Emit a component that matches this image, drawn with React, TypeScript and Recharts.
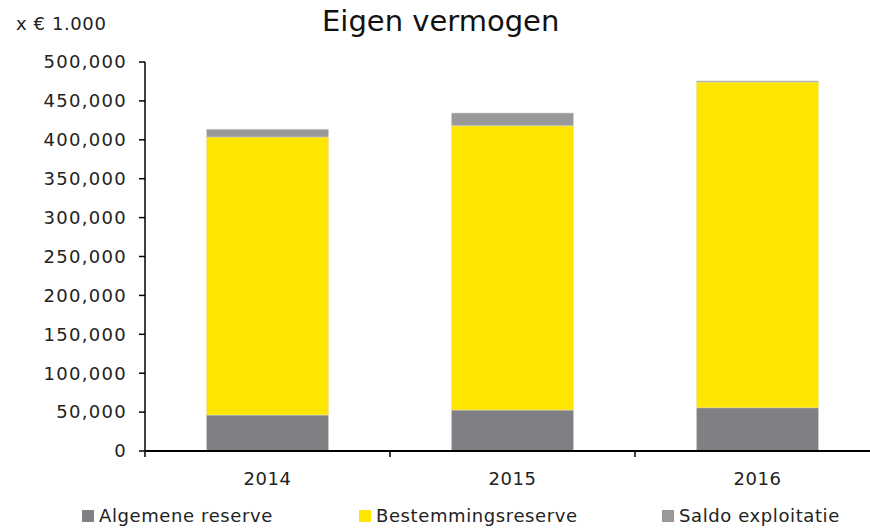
import React from 'react';
import { BarChart, Bar, XAxis, YAxis } from 'recharts';

if (typeof document !== 'undefined') {
  document.body.style.margin = '0';
}

const years = ['2014', '2015', '2016'];
const algemeneReserve = [46300, 52700, 55700];
const bestemmingsreserve = [357300, 365400, 418600];
const saldoExploitatie = [9900, 16300, 1300];
const yTicks = [0, 50000, 100000, 150000, 200000, 250000, 300000, 350000, 400000, 450000, 500000];

const data = years.map((y, i) => ({
  year: y,
  alg: algemeneReserve[i],
  best: bestemmingsreserve[i],
  saldo: saldoExploitatie[i],
}));

const FONT = '"DejaVu Sans", sans-serif';
const BAND = 245;

const legendItems = [
  { label: 'Algemene reserve', color: '#808084', x: 82 },
  { label: 'Bestemmingsreserve', color: '#FFE600', x: 359 },
  { label: 'Saldo exploitatie', color: '#999999', x: 662 },
];

const XTick = (props: any) => {
  const { x, payload } = props;
  return (
    <g>
      <line x1={x - BAND / 2} x2={x - BAND / 2} y1={451} y2={457} stroke="#000" strokeWidth={1.5} />
      <text x={x} y={485} textAnchor="middle" fill="#222" fontSize={18} fontFamily={FONT} letterSpacing={0.6}>
        {payload.value}
      </text>
    </g>
  );
};

export default function App() {
  return (
    <div style={{ position: 'relative', width: 870, height: 528, overflow: 'hidden', background: '#fff' }}>
      <div style={{ position: 'absolute', left: 16, top: 13, fontFamily: FONT, fontSize: 18, letterSpacing: 0.6, color: '#222', whiteSpace: 'nowrap' }}>x € 1.000</div>
      <div style={{ position: 'absolute', left: 322, top: 4, fontFamily: FONT, fontSize: 29, color: '#111', whiteSpace: 'nowrap' }}>Eigen vermogen</div>
      <BarChart
        width={882}
        height={528}
        data={data}
        margin={{ top: 62, right: 2, left: 0, bottom: 47 }}
        barCategoryGap={61.5}
        style={{ position: 'absolute', left: 0, top: 0 }}
      >
        <YAxis
          width={145}
          domain={[0, 500000]}
          ticks={yTicks}
          interval={0}
          tickFormatter={(v: number) => v.toLocaleString('en-US')}
          tick={{ fill: '#222', fontSize: 18, fontFamily: FONT, letterSpacing: 1.3 }}
          tickSize={6}
          tickMargin={12}
          axisLine={{ stroke: '#000', strokeWidth: 1.5 }}
          tickLine={{ stroke: '#000', strokeWidth: 1.5 }}
        />
        <XAxis
          dataKey="year"
          height={30}
          tick={<XTick />}
          tickLine={false}
          axisLine={{ stroke: '#000', strokeWidth: 2 }}
          interval={0}
        />
        <Bar dataKey="alg" stackId="a" fill="#808084" stroke="#d0d0d0" strokeWidth={0.6} isAnimationActive={false} />
        <Bar dataKey="best" stackId="a" fill="#FFE600" stroke="#e8e0a0" strokeWidth={0.6} isAnimationActive={false} />
        <Bar dataKey="saldo" stackId="a" fill="#999999" stroke="#d0d0d0" strokeWidth={0.6} isAnimationActive={false} />
      </BarChart>
      {legendItems.map((it) => (
        <div key={it.label} style={{ position: 'absolute', left: it.x, top: 505, display: 'flex', alignItems: 'center', fontFamily: FONT, fontSize: 18, letterSpacing: 0.6, color: '#222', whiteSpace: 'nowrap' }}>
          <span style={{ display: 'inline-block', width: 12, height: 12, background: it.color, marginRight: 5 }} />
          {it.label}
        </div>
      ))}
    </div>
  );
}
